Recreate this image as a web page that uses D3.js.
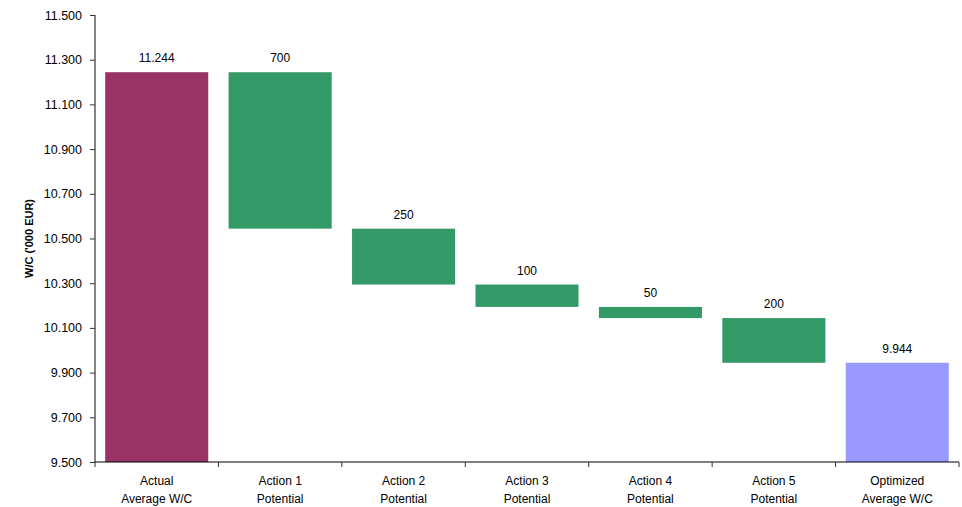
<!DOCTYPE html>
<html>
<head>
<meta charset="utf-8">
<script src="https://cdn.jsdelivr.net/npm/d3@7.9.0/dist/d3.min.js"></script>
<style>
  body { margin: 0; background: #fff; }
  svg text { font-family: "Liberation Sans", Arial, sans-serif; fill: #000; }
</style>
</head>
<body>
<svg id="chart" width="962" height="507"></svg>
<script>
// categories (two-line labels) and waterfall steps
const categories = ['Actual|Average W/C', 'Action 1|Potential', 'Action 2|Potential',
  'Action 3|Potential', 'Action 4|Potential', 'Action 5|Potential', 'Optimized|Average W/C'];
const startValue = 11244;
const deltas = [-700, -250, -100, -50, -200];
const yTicks = [9500, 9700, 9900, 10100, 10300, 10500, 10700, 10900, 11100, 11300, 11500];

const colors = { total: '#993366', step: '#339966', end: '#9999ff' };

// German style number format: 11.244
const fmt = d3.formatLocale({ decimal: ',', thousands: '.', grouping: [3], currency: ['', ' €'] }).format(',');

// build bars from the data
const bars = [];
let running = startValue;
bars.push({ cat: categories[0], y0: 9500, y1: startValue, label: fmt(startValue), kind: 'total' });
deltas.forEach((d, i) => {
  const next = running + d;
  bars.push({ cat: categories[i + 1], y0: next, y1: running, label: fmt(Math.abs(d)), kind: 'step' });
  running = next;
});
bars.push({ cat: categories[6], y0: 9500, y1: running, label: fmt(running), kind: 'end' });

const svg = d3.select('#chart');
const m = { left: 95, right: 959, top: 15, bottom: 462 };

const x = d3.scaleBand().domain(categories).range([m.left, m.right]).paddingInner(0.165).paddingOuter(0.0825);
const band = d3.scaleBand().domain(categories).range([m.left, m.right]);
const y = d3.scaleLinear().domain([9500, 11500]).range([m.bottom, m.top]);

// bars
svg.selectAll('rect.bar').data(bars).enter().append('rect')
  .attr('class', 'bar')
  .attr('x', d => x(d.cat))
  .attr('width', x.bandwidth())
  .attr('y', d => y(d.y1))
  .attr('height', d => y(d.y0) - y(d.y1))
  .attr('fill', d => colors[d.kind]);

// value labels
svg.selectAll('text.val').data(bars).enter().append('text')
  .attr('class', 'val')
  .attr('x', d => x(d.cat) + x.bandwidth() / 2)
  .attr('y', d => y(d.y1) - 10)
  .attr('text-anchor', 'middle')
  .style('font-size', '12px')
  .text(d => d.label);

// y axis
const yAxis = d3.axisLeft(y).tickValues(yTicks).tickFormat(d => fmt(d)).tickSize(5).tickPadding(8);
const gy = svg.append('g').attr('transform', `translate(${m.left},0)`).call(yAxis);
gy.select('.domain').attr('stroke', '#333').attr('stroke-width', 1.2).attr('d', `M0,${m.top}V${m.bottom}`);
gy.selectAll('.tick line').attr('stroke', '#333');
gy.selectAll('.tick text').style('font-size', '12.5px').style('font-family', '"Liberation Sans", Arial, sans-serif').attr('fill', '#000');

// x axis: line with tick marks at band boundaries
const gx = svg.append('g');
gx.append('line').attr('x1', m.left).attr('x2', m.right).attr('y1', m.bottom).attr('y2', m.bottom)
  .attr('stroke', '#000').attr('stroke-width', 1.2);
const bounds = categories.map(c => band(c)).concat([m.right]);
gx.selectAll('line.tk').data(bounds).enter().append('line')
  .attr('class', 'tk')
  .attr('x1', d => d).attr('x2', d => d)
  .attr('y1', m.bottom).attr('y2', m.bottom + 5)
  .attr('stroke', '#333');

// category labels
const cl = gx.selectAll('text.cat').data(categories).enter().append('text')
  .attr('class', 'cat')
  .attr('text-anchor', 'middle')
  .style('font-size', '12px')
  .attr('transform', d => `translate(${band(d) + band.bandwidth() / 2},0)`);
cl.each(function (d) {
  const parts = d.split('|');
  d3.select(this).selectAll('tspan').data(parts).enter().append('tspan')
    .attr('x', 0)
    .attr('y', (p, i) => 485 + i * 18)
    .text(p => p);
});

// y axis title
svg.append('text')
  .attr('transform', `translate(33,${(m.top + m.bottom) / 2}) rotate(-90)`)
  .attr('text-anchor', 'middle')
  .style('font-size', '11px')
  .style('font-weight', 'bold')
  .text("W/C ('000 EUR)");
</script>
</body>
</html>
